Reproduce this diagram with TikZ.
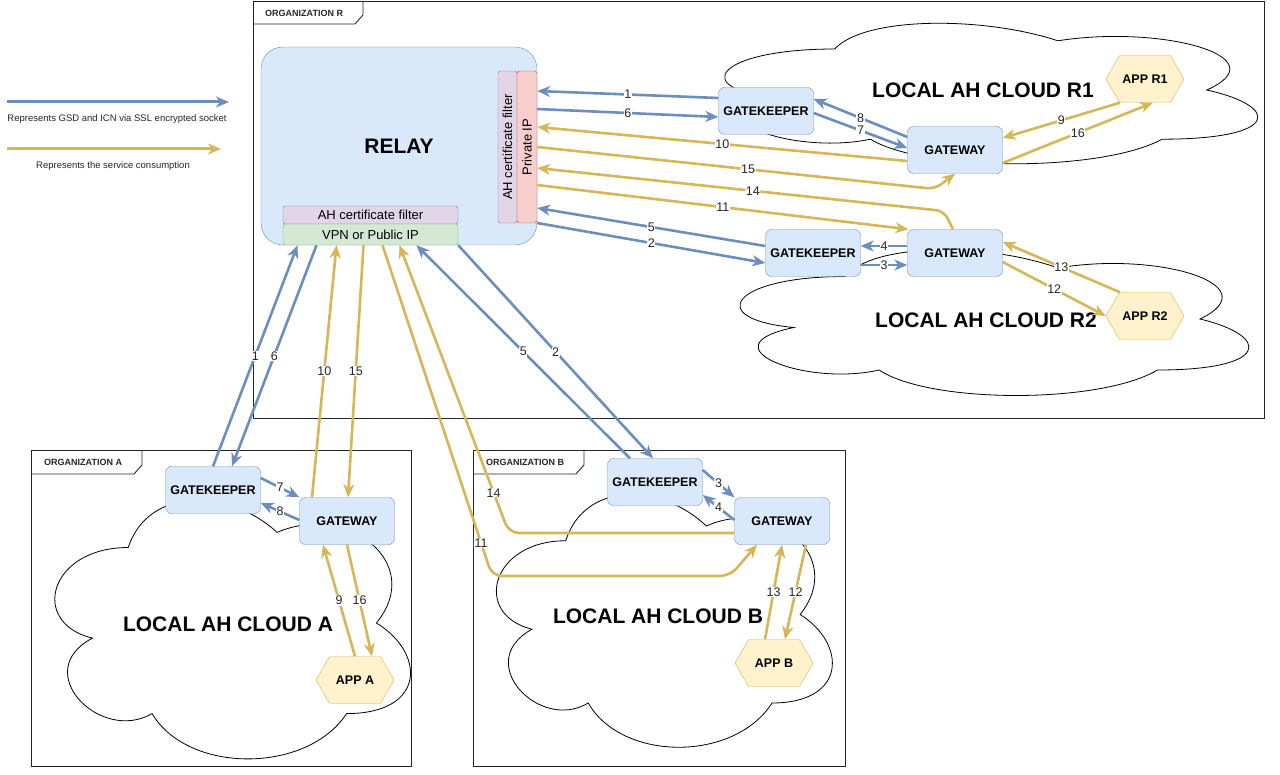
\documentclass[tikz,border=0pt]{standalone}
\usepackage{fontspec}
\setmainfont{Liberation Sans}
\usepackage{graphicx}
\usepackage{tikz}
\usetikzlibrary{arrows.meta,positioning,calc,shapes.symbols}
\definecolor{gsdblue}{HTML}{6C8EBF}
\definecolor{svcgold}{HTML}{D6B656}
\definecolor{boxblue}{HTML}{DAE8FC}
\definecolor{appfill}{HTML}{FFF2CC}
\definecolor{filterfill}{HTML}{E1D5E7}
\definecolor{filterdraw}{HTML}{9673A6}
\definecolor{ipfill}{HTML}{F8CECC}
\definecolor{ipdraw}{HTML}{B85450}
\definecolor{vpnfill}{HTML}{D5E8D4}
\definecolor{vpndraw}{HTML}{82B366}
\newcommand{\ahcloud}[4]{%
  \draw[cloudline, shift={(#1,#2)}, x=#3pt, y=-#4pt]
    (0.25,0.25) .. controls (0.05,0.25) and (0,0.5) .. (0.16,0.55)
    .. controls (0,0.66) and (0.18,0.9) .. (0.31,0.8)
    .. controls (0.4,1) and (0.7,1) .. (0.8,0.8)
    .. controls (1,0.8) and (1,0.6) .. (0.875,0.5)
    .. controls (1,0.3) and (0.8,0.1) .. (0.625,0.2)
    .. controls (0.5,0.05) and (0.3,0.05) .. (0.25,0.25) -- cycle;}

\begin{document}
\begin{tikzpicture}[x=1pt, y=-1pt,
  box/.style={draw=gsdblue, fill=boxblue, rounded corners=6pt, minimum width=95pt, minimum height=47pt, inner sep=0pt, font=\fontsize{12.5}{14}\selectfont\bfseries},
  app/.style={signal, signal to=west and east, signal pointer angle=120, draw=svcgold, fill=appfill, minimum width=78pt, minimum height=47pt, inner sep=0pt, font=\fontsize{12.5}{14}\selectfont\bfseries},
  relaybox/.style={draw=gsdblue, fill=boxblue, rounded corners=22pt, minimum width=276pt, minimum height=198pt, inner sep=0pt, font=\fontsize{21}{25}\selectfont\bfseries},
  filterbox/.style={draw=filterdraw, fill=filterfill, rounded corners=2.5pt, inner sep=0pt, font=\fontsize{13}{15}\selectfont},
  ipbox/.style={draw=ipdraw, fill=ipfill, rounded corners=2.5pt, minimum width=20pt, minimum height=152pt, inner sep=0pt, font=\fontsize{13}{15}\selectfont},
  vpnbox/.style={draw=vpndraw, fill=vpnfill, rounded corners=2.5pt, minimum width=175pt, minimum height=21pt, inner sep=0pt, font=\fontsize{13}{15}\selectfont},
  cloudline/.style={draw=black, fill=white, line width=0.8pt},
  cloudtxt/.style={font=\fontsize{21}{25}\selectfont\bfseries},
  frame/.style={draw=black!85, line width=0.9pt},
  orgtxt/.style={anchor=west, inner sep=0pt, font=\fontsize{9}{10}\selectfont\bfseries, text=black!85},
  legtxt/.style={inner sep=0pt, font=\fontsize{9.5}{11}\selectfont, text=black!85},
  gsd/.style={-{Stealth[length=13pt,width=11pt,inset=4pt]}, line width=2.6pt, draw=gsdblue},
  svc/.style={-{Stealth[length=13pt,width=11pt,inset=4pt]}, line width=2.6pt, draw=svcgold},
  lbl/.style={midway, fill=white, inner sep=0.6pt, font=\fontsize{12.5}{13}\selectfont, text=black!85}
]
\useasboundingbox (0,0) rectangle (1280,775);

\draw[frame] (253,1.5) rectangle (1264,418);
\draw[frame] (253,24) -- (355,24) -- (363,15) -- (363,1.5);
\node[orgtxt] (orgR) at (265,13) {ORGANIZATION R};
\draw[frame] (31,450) rectangle (411,766);
\draw[frame] (31,474) -- (134,474) -- (142,465) -- (142,450);
\node[orgtxt] (orgA) at (44,462) {ORGANIZATION A};
\draw[frame] (473,450) rectangle (845,766);
\draw[frame] (473,474) -- (576,474) -- (584,465) -- (584,450);
\node[orgtxt] (orgB) at (486,462) {ORGANIZATION B};

\ahcloud{686}{8}{595}{164}
\ahcloud{703}{234}{568}{170}
\ahcloud{29}{472}{397}{302}
\ahcloud{472}{467}{375}{295}
\node[cloudtxt] (tR1) at (983,90) {LOCAL AH CLOUD R1};
\node[cloudtxt] (tR2) at (986,320) {LOCAL AH CLOUD R2};
\node[cloudtxt] (tA) at (228,624) {LOCAL AH CLOUD A};
\node[cloudtxt] (tB) at (658,616) {LOCAL AH CLOUD B};

\node[relaybox] (relay) at (399,146) {RELAY};
\node[filterbox, minimum width=19pt, minimum height=152pt] (ahfR) at (507.5,147) {\rotatebox{90}{AH certificate filter}};
\node[ipbox] (privIP) at (527,147) {\rotatebox{90}{Private IP}};
\node[filterbox, minimum width=175pt, minimum height=18pt] (ahfB) at (370.5,215) {AH certificate filter};
\node[vpnbox] (vpn) at (370.5,234.5) {VPN or Public IP};

\node[box] (gkR1) at (766,111) {GATEKEEPER};
\node[box] (gwR1) at (955,150) {GATEWAY};
\node[app] (appR1) at (1145,79) {APP R1};
\node[box] (gkR2) at (813,253) {GATEKEEPER};
\node[box] (gwR2) at (955,253) {GATEWAY};
\node[app] (appR2) at (1145,316) {APP R2};
\node[box] (gkA) at (213,490) {GATEKEEPER};
\node[box] (gwA) at (347,521) {GATEWAY};
\node[app] (appA) at (355,680) {APP A};
\node[box] (gkB) at (655,482) {GATEKEEPER};
\node[box] (gwB) at (782,521) {GATEWAY};
\node[app] (appB) at (774,663) {APP B};

\draw[gsd] ($(gkR1.west)+(0,-13)$) -- node[lbl]{1} ($(privIP.east)+(0,-56)$);
\draw[gsd] ($(privIP.east)+(0,-38)$) -- node[lbl]{6} ($(gkR1.west)+(0,6)$);
\draw[svc] ($(gwR1.west)+(0,11)$) -- node[lbl]{10} ($(privIP.east)+(0,-20)$);
\draw[svc, rounded corners=8pt] (privIP.east) -- node[lbl,pos=.53]{15} (935,189) -- (gwR1.south);
\draw[svc, rounded corners=8pt] ($(gwR2.north)+(-2,0)$) -- (944,211) -- node[lbl,pos=.47]{14} ($(privIP.east)+(0,21)$);
\draw[svc] ($(privIP.east)+(0,38)$) -- node[lbl]{11} ($(gwR2.north west)+(1,0)$);
\draw[gsd] ($(gkR2.west)+(0,-7)$) -- node[lbl]{5} ($(privIP.east)+(0,61)$);
\draw[gsd] ($(privIP.east)+(0,76)$) -- node[lbl]{2} ($(gkR2.west)+(0,10)$);

\draw[gsd] ($(gwR1.west)+(0,-13)$) -- node[lbl]{8} ($(gkR1.east)+(0,-12)$);
\draw[gsd] ($(gkR1.east)+(0,2)$) -- node[lbl]{7} ($(gwR1.west)+(0,-2)$);
\draw[svc] ($(appR1.south)+(-25,0)$) -- node[lbl]{9} ($(gwR1.east)+(0,-12)$);
\draw[svc] ($(gwR1.east)+(0,13)$) -- node[lbl]{16} ($(appR1.south)+(8,0)$);

\draw[gsd] ($(gwR2.west)+(0,-7)$) -- node[lbl]{4} ($(gkR2.east)+(0,-7)$);
\draw[gsd] ($(gkR2.east)+(0,12)$) -- node[lbl]{3} ($(gwR2.west)+(0,12)$);
\draw[svc] ($(appR2.north)+(-25,0)$) -- node[lbl]{13} ($(gwR2.east)+(0,-11)$);
\draw[svc] ($(gwR2.east)+(0,9)$) -- node[lbl]{12} (appR2.west);

\draw[gsd] (gkA.north) -- node[lbl]{1} ($(vpn.south)+(-73,0)$);
\draw[gsd] ($(vpn.south)+(-54,0)$) -- node[lbl]{6} ($(gkA.north)+(19,0)$);
\draw[svc] ($(gwA.north)+(-35,0)$) -- node[lbl]{10} ($(vpn.south)+(-34,0)$);
\draw[svc] ($(vpn.south)+(-7,0)$) -- node[lbl]{15} ($(gwA.north)+(1,0)$);
\draw[gsd] ($(gkA.east)+(0,-12)$) -- node[lbl]{7} (gwA.north west);
\draw[gsd] ($(gwA.west)+(0,-1)$) -- node[lbl]{8} ($(gkA.east)+(0,13)$);
\draw[svc] (appA.north) -- node[lbl]{9} ($(gwA.south)+(-24,0)$);
\draw[svc] (gwA.south) -- node[lbl]{16} ($(appA.north)+(17,0)$);

\draw[svc, rounded corners=10pt] ($(vpn.south)+(12,0)$) -- node[lbl,pos=.9]{11} (492,576) -- (730,576) -- ($(gwB.south)+(-25,0)$);
\draw[svc, rounded corners=10pt] ($(gwB.west)+(0,12)$) -- (509,533) -- node[lbl,pos=.14]{14} ($(vpn.south)+(29,0)$);
\draw[gsd] ($(gkB.north)+(-25,0)$) -- node[lbl]{5} ($(vpn.south)+(46,0)$);
\draw[gsd] (vpn.south east) -- node[lbl]{2} ($(gkB.north)+(-2,0)$);
\draw[gsd] ($(gkB.east)+(0,-12)$) -- node[lbl]{3} (gwB.north west);
\draw[gsd] ($(gwB.west)+(0,-1)$) -- node[lbl]{4} ($(gkB.east)+(0,13)$);
\draw[svc] ($(appB.north)+(-9,0)$) -- node[lbl]{13} (gwB.south);
\draw[svc] ($(gwB.south)+(24,0)$) -- node[lbl]{12} ($(appB.north)+(11,0)$);

\coordinate (lgB1) at (7,102);
\coordinate (lgB2) at (229,102);
\draw[gsd, line width=3pt] (lgB1) -- (lgB2);
\node[legtxt] (lgT1) at (117,119) {Represents GSD and ICN via SSL encrypted socket};
\coordinate (lgS1) at (7,149);
\coordinate (lgS2) at (221,149);
\draw[svc, line width=3pt] (lgS1) -- (lgS2);
\node[legtxt] (lgT2) at (113,166) {Represents the service consumption};
\end{tikzpicture}
\end{document}
